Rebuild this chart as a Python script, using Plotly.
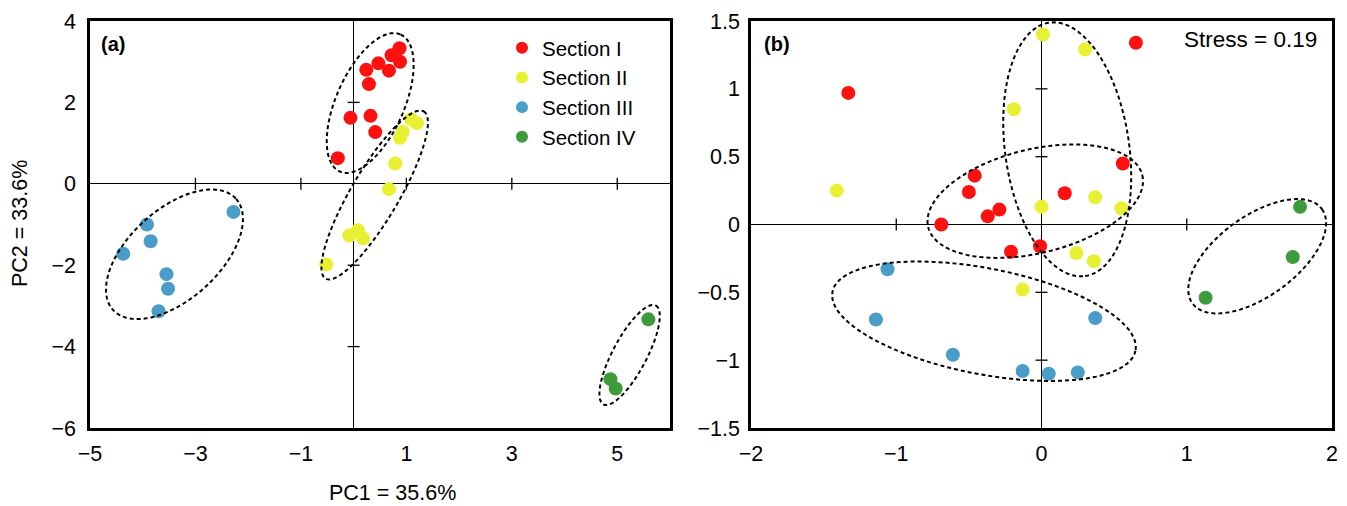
import numpy as np
import plotly.graph_objects as go

# ---------------- data ----------------
sections = ["Section I", "Section II", "Section III", "Section IV"]
colors = ["#FF1010", "#E8F032", "#4A9DC8", "#3C9C3C"]

# Panel (a): PCA scores
a_sec1_x = [0.87, 0.72, 0.88, 0.47, 0.24, 0.67, 0.29, -0.06, 0.32, 0.41, -0.30]
a_sec1_y = [3.33, 3.16, 3.00, 2.96, 2.80, 2.78, 2.45, 1.62, 1.67, 1.27, 0.63]
a_sec2_x = [1.09, 1.20, 0.93, 0.88, 0.79, 0.67, -0.08, 0.08, 0.18, -0.52]
a_sec2_y = [1.59, 1.49, 1.28, 1.13, 0.50, -0.13, -1.27, -1.14, -1.34, -1.98]
a_sec3_x = [-2.28, -3.92, -3.85, -4.37, -3.55, -3.52, -3.70]
a_sec3_y = [-0.69, -1.00, -1.41, -1.72, -2.22, -2.58, -3.13]
a_sec4_x = [5.59, 4.87, 4.97]
a_sec4_y = [-3.33, -4.80, -5.03]

# Panel (b): NMDS scores
b_sec1_x = [-1.33, -0.46, -0.50, -0.29, -0.37, -0.69, -0.21, -0.01, 0.56, 0.16, 0.65]
b_sec1_y = [0.97, 0.36, 0.24, 0.11, 0.06, 0.00, -0.20, -0.16, 0.45, 0.23, 1.34]
b_sec2_x = [-1.41, -0.19, 0.01, 0.30, 0.37, 0.00, 0.55, 0.24, 0.36, -0.13]
b_sec2_y = [0.25, 0.85, 1.40, 1.29, 0.20, 0.13, 0.12, -0.21, -0.27, -0.48]
b_sec3_x = [-1.06, -1.14, -0.61, -0.13, 0.05, 0.25, 0.37]
b_sec3_y = [-0.33, -0.70, -0.96, -1.08, -1.10, -1.09, -0.69]
b_sec4_x = [1.78, 1.73, 1.13]
b_sec4_y = [0.13, -0.24, -0.54]

# Tick values
a_xticks = [-5, -3, -1, 1, 3, 5]
a_yticks = [-6, -4, -2, 0, 2, 4]
a_cross_x = [-3, -1, 1, 3, 5]
a_cross_y = [-4, -2, 2]
b_xticks = [-2, -1, 0, 1, 2]
b_yticks = [-1.5, -1, -0.5, 0, 0.5, 1, 1.5]
b_cross_x = [-1, 1]
b_cross_y = [-1, -0.5, 0.5, 1]

# Grouping ellipses (centre, half major-axis vector, half minor-axis vector) in data units
a_ellipses = [
    (0.314, 1.985, 0.577, 1.683, 0.588, -0.340),
    (0.399, -0.275, 0.931, 2.054, 0.391, -0.299),
    (-3.398, -1.732, 1.167, 1.364, 0.570, -0.821),
    (5.234, -4.206, 0.497, 1.214, 0.284, -0.196),
]
b_ellipses = [
    (-0.043, 0.172, 0.737, 0.191, 0.084, -0.372),
    (0.177, 0.554, 0.123, -0.934, 0.423, 0.064),
    (-0.396, -0.713, 1.043, -0.217, -0.070, -0.383),
    (1.485, -0.234, 0.446, 0.347, 0.162, -0.239),
]

# The body margin is removed after plotting, so the figure fills the window.
OFF = 0
W, H = 1347 - 2 * OFF, 506 - 2 * OFF
FONT = "Liberation Sans, Arial, sans-serif"
FS = 21.5
LFS = 20.5


def px(x):
    return (x - OFF) / W


def py(y):
    return 1 - (y - OFF) / H


fig = go.Figure()

a_sets = [(a_sec1_x, a_sec1_y), (a_sec2_x, a_sec2_y), (a_sec3_x, a_sec3_y), (a_sec4_x, a_sec4_y)]
b_sets = [(b_sec1_x, b_sec1_y), (b_sec2_x, b_sec2_y), (b_sec3_x, b_sec3_y), (b_sec4_x, b_sec4_y)]

for name, col, (xs, ys) in zip(sections, colors, a_sets):
    fig.add_trace(go.Scatter(x=xs, y=ys, mode="markers", name=name,
                             marker=dict(color=col, size=14, line=dict(width=0)),
                             xaxis="x", yaxis="y", showlegend=True))
for name, col, (xs, ys) in zip(sections, colors, b_sets):
    fig.add_trace(go.Scatter(x=xs, y=ys, mode="markers", name=name,
                             marker=dict(color=col, size=14, line=dict(width=0)),
                             xaxis="x2", yaxis="y2", showlegend=False))

shapes = []


def ellipse_path(e):
    cx, cy, ax, ay, bx, by = e
    t = np.linspace(0, 2 * np.pi, 160)
    xs = cx + ax * np.cos(t) + bx * np.sin(t)
    ys = cy + ay * np.cos(t) + by * np.sin(t)
    p = "M {:.4f},{:.4f} ".format(xs[0], ys[0])
    p += " ".join("L {:.4f},{:.4f}".format(x, y) for x, y in zip(xs[1:], ys[1:]))
    return p + " Z"


for xr, yr, ells in (("x", "y", a_ellipses), ("x2", "y2", b_ellipses)):
    for e in ells:
        shapes.append(dict(type="path", xref=xr, yref=yr, path=ellipse_path(e),
                           line=dict(color="black", width=2, dash="4px,3px"),
                           fillcolor="rgba(0,0,0,0)", layer="above"))

# crosshair tick marks on the zero lines
for xr, yr, cx, cy in (("x", "y", a_cross_x, a_cross_y), ("x2", "y2", b_cross_x, b_cross_y)):
    for v in cx:
        shapes.append(dict(type="line", xref=xr, yref=yr, x0=v, x1=v,
                           ysizemode="pixel", yanchor=0, y0=-6, y1=6,
                           line=dict(color="black", width=1.3), layer="below"))
    for v in cy:
        shapes.append(dict(type="line", xref=xr, yref=yr, y0=v, y1=v,
                           xsizemode="pixel", xanchor=0, x0=-6, x1=6,
                           line=dict(color="black", width=1.3), layer="below"))

axis_common = dict(showgrid=False, zeroline=True, zerolinecolor="black", zerolinewidth=1.3,
                   showline=True, linecolor="black", linewidth=2.6, mirror=True,
                   automargin=False, ticks="",
                   tickfont=dict(size=FS, color="black", family=FONT))

fig.update_layout(
    width=W, height=H,
    margin=dict(l=0, r=0, t=0, b=0, pad=0, autoexpand=False),
    paper_bgcolor="white", plot_bgcolor="white",
    font=dict(family=FONT, color="black", size=FS),
    xaxis=dict(domain=[px(90), px(670)], range=[-5, 6], tickvals=a_xticks,
               anchor="y", ticklabelstandoff=4, **axis_common),
    yaxis=dict(domain=[py(428), py(21)], range=[-6, 4], tickvals=a_yticks,
               anchor="x", ticklabelstandoff=7, **axis_common),
    xaxis2=dict(domain=[px(751), px(1332)], range=[-2, 2], tickvals=b_xticks,
                anchor="y2", ticklabelstandoff=4, **axis_common),
    yaxis2=dict(domain=[py(428), py(21)], range=[-1.5, 1.5], tickvals=b_yticks,
                anchor="x2", ticklabelstandoff=4, **axis_common),
    shapes=shapes,
    showlegend=True,
    legend=dict(x=px(502), y=py(28), xanchor="left", yanchor="top",
                font=dict(size=LFS, family=FONT, color="black"),
                bgcolor="rgba(0,0,0,0)", itemsizing="constant", tracegroupgap=0),
    annotations=[
        dict(text="<b>(a)</b>", xref="paper", yref="paper", x=px(99), y=py(44),
             xanchor="left", yanchor="middle", showarrow=False, font=dict(size=20)),
        dict(text="<b>(b)</b>", xref="paper", yref="paper", x=px(762), y=py(44),
             xanchor="left", yanchor="middle", showarrow=False, font=dict(size=20)),
        dict(text="Stress = 0.19", xref="paper", yref="paper", x=px(1319), y=py(40),
             xanchor="right", yanchor="middle", showarrow=False, font=dict(size=22.5)),
        dict(text="PC1 = 35.6%", xref="paper", yref="paper", x=px(392), y=py(493),
             xanchor="center", yanchor="middle", showarrow=False, font=dict(size=FS)),
        dict(text="PC2 = 33.6%", xref="paper", yref="paper", x=px(20), y=py(224),
             xanchor="center", yanchor="middle", showarrow=False, textangle=-90,
             font=dict(size=FS)),
    ],
)

fig.write_html("out.html", config={"responsive": False, "displayModeBar": False},
               post_script="document.body.style.margin='0';"
                           "document.documentElement.style.overflow='hidden';")
